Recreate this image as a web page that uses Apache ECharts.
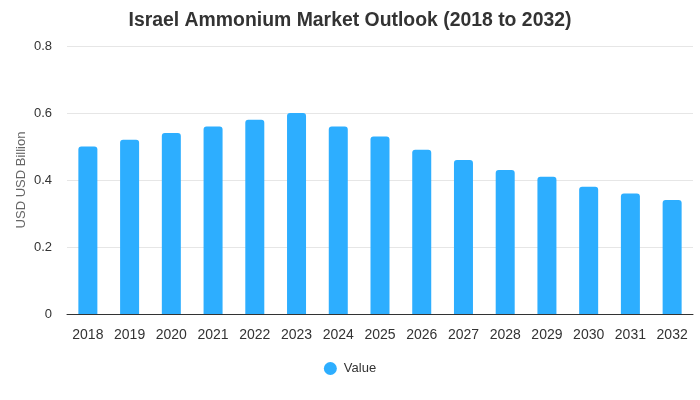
<!DOCTYPE html>
<html>
<head>
<meta charset="utf-8">
<script src="https://cdn.jsdelivr.net/npm/echarts@6/dist/echarts.min.js"></script>
<style>html,body{margin:0;padding:0;background:#fff;}#chart{width:700px;height:400px;}</style>
</head>
<body>
<div id="chart"></div>
<script>
const categories = ['2018','2019','2020','2021','2022','2023','2024','2025','2026','2027','2028','2029','2030','2031','2032'];
const values = [0.50, 0.52, 0.54, 0.56, 0.58, 0.60, 0.56, 0.53, 0.49, 0.46, 0.43, 0.41, 0.38, 0.36, 0.34];
const seriesName = 'Value';
const titleText = 'Israel Ammonium Market Outlook (2018 to 2032)';
const yAxisName = 'USD USD Billion';

const chart = echarts.init(document.getElementById('chart'), null, {renderer: 'canvas'});
chart.setOption({
  animation: false,
  title: {
    text: titleText,
    left: 'center',
    top: 6,
    textStyle: {fontFamily: '"Liberation Sans", Arial, sans-serif', fontSize: 19.4, fontWeight: 'bold', color: '#333'}
  },
  legend: {
    bottom: 20,
    left: 'center',
    icon: 'circle',
    itemWidth: 13,
    itemHeight: 13,
    itemGap: 10,
    textStyle: {fontFamily: '"Liberation Sans", Arial, sans-serif', fontSize: 13, color: '#333', padding: [0, 0, 0, 2]},
    data: [seriesName]
  },
  grid: {left: 67, right: 7, top: 46, bottom: 86},
  xAxis: {
    type: 'category',
    data: categories,
    axisLine: {lineStyle: {color: '#333'}},
    axisTick: {show: false},
    axisLabel: {fontFamily: '"Liberation Sans", Arial, sans-serif', fontSize: 14, color: '#333', margin: 14}
  },
  yAxis: {
    type: 'value',
    min: 0,
    max: 0.8,
    interval: 0.2,
    name: yAxisName,
    nameLocation: 'middle',
    nameGap: 39,
    nameMoveOverlap: false,
    nameTextStyle: {fontFamily: '"Liberation Sans", Arial, sans-serif', fontSize: 13, color: '#666'},
    axisLine: {show: false},
    axisTick: {show: false},
    axisLabel: {fontFamily: '"Liberation Sans", Arial, sans-serif', fontSize: 13, color: '#333', margin: 15},
    splitLine: {lineStyle: {color: '#e6e6e6'}}
  },
  series: [{
    name: seriesName,
    type: 'bar',
    data: values,
    barWidth: 19,
    itemStyle: {color: '#2DAEFF', borderRadius: [3, 3, 0, 0]}
  }]
});
</script>
</body>
</html>
